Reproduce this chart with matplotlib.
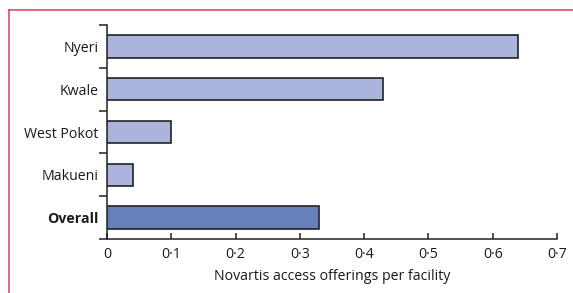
import matplotlib
matplotlib.use("Agg")
import matplotlib.pyplot as plt
from matplotlib.lines import Line2D
from matplotlib.ticker import FixedLocator, FuncFormatter

plt.rcParams['font.family'] = ['Open Sans', 'DejaVu Sans']

categories = ["Nyeri", "Kwale", "West Pokot", "Makueni", "Overall"]
values = [0.64, 0.43, 0.10, 0.04, 0.33]
colors = ["#aab4dc", "#aab4dc", "#aab4dc", "#aab4dc", "#6680bb"]
xticks = [0, 0.1, 0.2, 0.3, 0.4, 0.5, 0.6, 0.7]
xlabel = "Novartis access offerings per facility"

W, H = 573, 293
fig = plt.figure(figsize=(W / 100, H / 100), dpi=100)
ax = fig.add_axes([107 / W, (H - 239) / H, (557 - 107) / W, (239 - 25) / H])

pos = list(range(len(categories)))[::-1]
ax.barh(pos, values, height=0.52, color=colors, edgecolor="#222222", linewidth=1.2, zorder=3)

ax.set_xlim(0, 0.7)
ax.set_ylim(-0.5, len(categories) - 0.5)

ax.spines['top'].set_visible(False)
ax.spines['right'].set_visible(False)
for s in ('left', 'bottom'):
    ax.spines[s].set_color("#222222")
    ax.spines[s].set_linewidth(1.1)

# y ticks at category boundaries, labels at centres
ax.yaxis.set_major_locator(FixedLocator([p - 0.5 for p in range(len(categories) + 1)]))
ax.yaxis.set_major_formatter(FuncFormatter(lambda v, i: ""))
ax.yaxis.set_minor_locator(FixedLocator(pos))
ax.set_yticklabels(categories, minor=True)
ax.tick_params(axis='y', which='major', direction='out', length=6, width=1.1, color="#222222")
ax.tick_params(axis='y', which='minor', length=0, pad=6, labelsize=10.2, labelcolor="#1a1a1a")
for lbl in ax.get_yticklabels(minor=True):
    if lbl.get_text() == "Overall":
        lbl.set_fontweight("bold")

ax.set_xticks(xticks)
ax.set_xticklabels([("0" if t == 0 else f"{t:.1f}".replace(".", "\u00b7")) for t in xticks])
ax.tick_params(axis='x', direction='in', length=4, width=1.1, color="#222222", pad=6,
               labelsize=10.2, labelcolor="#1a1a1a")
ax.set_xlabel(xlabel, fontsize=10.2, color="#1a1a1a", labelpad=5)

# decorative frame lines
fig.add_artist(Line2D([9 / W, 1], [1 - 10 / H, 1 - 10 / H], color="#dd4a6c", linewidth=1.2))
fig.add_artist(Line2D([9 / W, 9 / W], [0, 1 - 10 / H], color="#dd4a6c", linewidth=1.2))

fig.savefig("out.png", dpi=100)
